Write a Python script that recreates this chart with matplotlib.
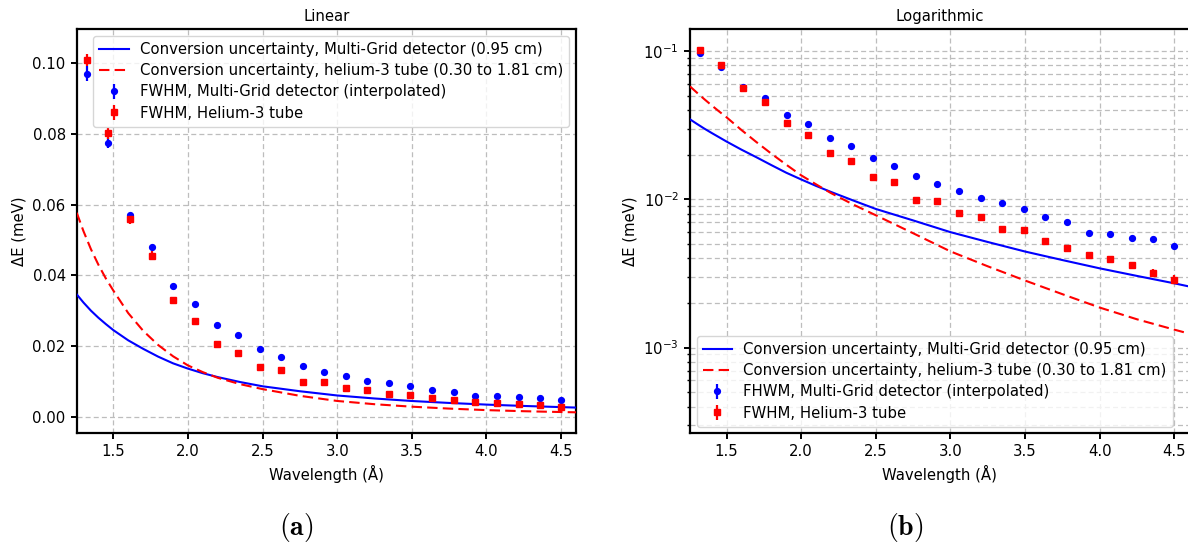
import numpy as np
import matplotlib
matplotlib.use("Agg")
import matplotlib.pyplot as plt
from matplotlib.ticker import LogLocator, NullFormatter

# ---------------- data ----------------
wavelength = [1.322, 1.466, 1.612, 1.757, 1.902, 2.048, 2.193, 2.336, 2.481, 2.624,
              2.769, 2.912, 3.057, 3.202, 3.346, 3.490, 3.634, 3.779, 3.925, 4.070,
              4.215, 4.358, 4.500]

fwhm_mg = [0.0970, 0.0774, 0.0571, 0.0479, 0.0369, 0.0320, 0.0260, 0.0230, 0.0191, 0.0168,
           0.01431, 0.01270, 0.01140, 0.01012, 0.00946, 0.00866, 0.00756, 0.00705, 0.00595,
           0.00587, 0.00552, 0.00536, 0.00484]
fwhm_mg_err = [0.0021, 0.0014, 0.0006, 0.0007, 0.0004, 0.0003, 0.0003, 0.0002, 0.0002, 0.0002,
               0.0002, 0.0002, 0.0002, 0.0001, 0.0001, 0.0001, 0.0001, 0.0001, 0.0001,
               0.0001, 0.0001, 0.0001, 0.0001]

fwhm_he3 = [0.1009, 0.0802, 0.0559, 0.0455, 0.0329, 0.0271, 0.0206, 0.0180, 0.01413, 0.01307,
            0.00994, 0.00970, 0.00813, 0.00764, 0.00632, 0.00625, 0.00519, 0.00470, 0.00420,
            0.00393, 0.00358, 0.00318, 0.00287]
fwhm_he3_err = [0.0018, 0.0016, 0.0014, 0.0013, 0.0010, 0.0006, 0.0005, 0.0004, 0.0004, 0.0004,
                0.0003, 0.0003, 0.0003, 0.0003, 0.0002, 0.0002, 0.0002, 0.0002, 0.0002,
                0.0002, 0.0002, 0.0002, 0.0002]

curve_wavelength = [1.255, 1.30, 1.35, 1.40, 1.45, 1.50, 1.60, 1.70, 1.80, 1.90,
                    2.00, 2.10, 2.20, 2.35, 2.50, 2.75, 3.00, 3.25, 3.50, 3.75,
                    4.00, 4.25, 4.50, 4.60]
conv_mg = [0.0346, 0.0323, 0.0300, 0.0280, 0.0262, 0.0245, 0.0216, 0.0192, 0.0170, 0.0151,
           0.0136, 0.0123, 0.0112, 0.0098, 0.0086, 0.0072, 0.00600, 0.00515, 0.00444, 0.00389,
           0.00342, 0.00304, 0.00271, 0.00258]
conv_he3 = [0.0577, 0.0525, 0.0474, 0.0430, 0.0391, 0.0357, 0.0293, 0.0243, 0.0203, 0.0171,
            0.0145, 0.0126, 0.0110, 0.0092, 0.0078, 0.0059, 0.00445, 0.00353, 0.00283, 0.00229,
            0.00186, 0.00155, 0.00132, 0.00124]

labels_left = ["Conversion uncertainty, Multi-Grid detector (0.95 cm)",
               "Conversion uncertainty, helium-3 tube (0.30 to 1.81 cm)",
               "FWHM, Multi-Grid detector (interpolated)",
               "FWHM, Helium-3 tube"]
labels_right = ["Conversion uncertainty, Multi-Grid detector (0.95 cm)",
                "Conversion uncertainty, helium-3 tube (0.30 to 1.81 cm)",
                "FHWM, Multi-Grid detector (interpolated)",
                "FWHM, Helium-3 tube"]
x_ticks = [1.5, 2.0, 2.5, 3.0, 3.5, 4.0, 4.5]
y_ticks_lin = [0.00, 0.02, 0.04, 0.06, 0.08, 0.10]

# ---------------- figure ----------------
FS = 10.7
plt.rcParams['font.family'] = ['DejaVu Sans']
fig = plt.figure(figsize=(11.88, 5.48), dpi=100)
ax1 = fig.add_axes([0.0646, 0.2093, 0.4203, 0.7372])
ax2 = fig.add_axes([0.5808, 0.2093, 0.4203, 0.7372])

grid_kw = dict(color='#bdbdbd', linestyle=(0, (4, 2.5)), linewidth=0.9)


def draw(ax):
    l1, = ax.plot(curve_wavelength, conv_mg, color='blue', lw=1.5, zorder=3)
    l2, = ax.plot(curve_wavelength, conv_he3, color='red', lw=1.5,
                  linestyle=(0, (5, 2.5)), zorder=3)
    e1 = ax.errorbar(wavelength, fwhm_mg, yerr=fwhm_mg_err, fmt='o', color='blue',
                     ms=4.2, elinewidth=1.6, capsize=0, zorder=4)
    e2 = ax.errorbar(wavelength, fwhm_he3, yerr=fwhm_he3_err, fmt='s', color='red',
                     ms=4.2, elinewidth=1.6, capsize=0, zorder=4)
    ax.set_xlim(1.255, 4.60)
    ax.set_xticks(x_ticks)
    ax.set_xlabel('Wavelength (Å)', fontsize=FS)
    ax.set_ylabel('ΔE (meV)', fontsize=FS)
    for sp in ax.spines.values():
        sp.set_linewidth(1.6)
    ax.tick_params(which='major', width=1.4, length=4.5, labelsize=FS)
    ax.tick_params(which='minor', width=1.0, length=2.5)
    return [l1, l2, e1, e2]


h1 = draw(ax1)
ax1.set_ylim(-0.0047, 0.1096)
ax1.set_yticks(y_ticks_lin)
ax1.set_yticklabels([f'{v:.2f}' for v in y_ticks_lin])
ax1.grid(True, which='major', **grid_kw)
ax1.set_axisbelow(True)
ax1.set_title('Linear', fontsize=FS)
ax1.legend(h1, labels_left, loc='upper right', fontsize=FS, framealpha=0.8,
           edgecolor='#cccccc', handlelength=2.0, handletextpad=0.75,
           labelspacing=0.42, borderaxespad=0.45)

h2 = draw(ax2)
ax2.set_yscale('log')
ax2.set_ylim(2.64e-4, 0.14)
ax2.yaxis.set_minor_locator(LogLocator(base=10, subs=np.arange(2, 10), numticks=20))
ax2.yaxis.set_minor_formatter(NullFormatter())
ax2.grid(True, which='major', axis='x', **grid_kw)
ax2.grid(True, which='both', axis='y', **grid_kw)
ax2.set_axisbelow(True)
ax2.set_title('Logarithmic', fontsize=FS)
ax2.legend(h2, labels_right, loc='lower left', fontsize=FS, framealpha=0.8,
           edgecolor='#cccccc', handlelength=2.0, handletextpad=0.75,
           labelspacing=0.42, borderaxespad=0.45)

fig.text(296 / 1188, 1 - 528 / 548, r'$\mathbf{(a)}$', math_fontfamily='cm',
         fontsize=20, ha='center', va='center')
fig.text(905 / 1188, 1 - 528 / 548, r'$\mathbf{(b)}$', math_fontfamily='cm',
         fontsize=20, ha='center', va='center')

fig.savefig('out.png', dpi=100)
